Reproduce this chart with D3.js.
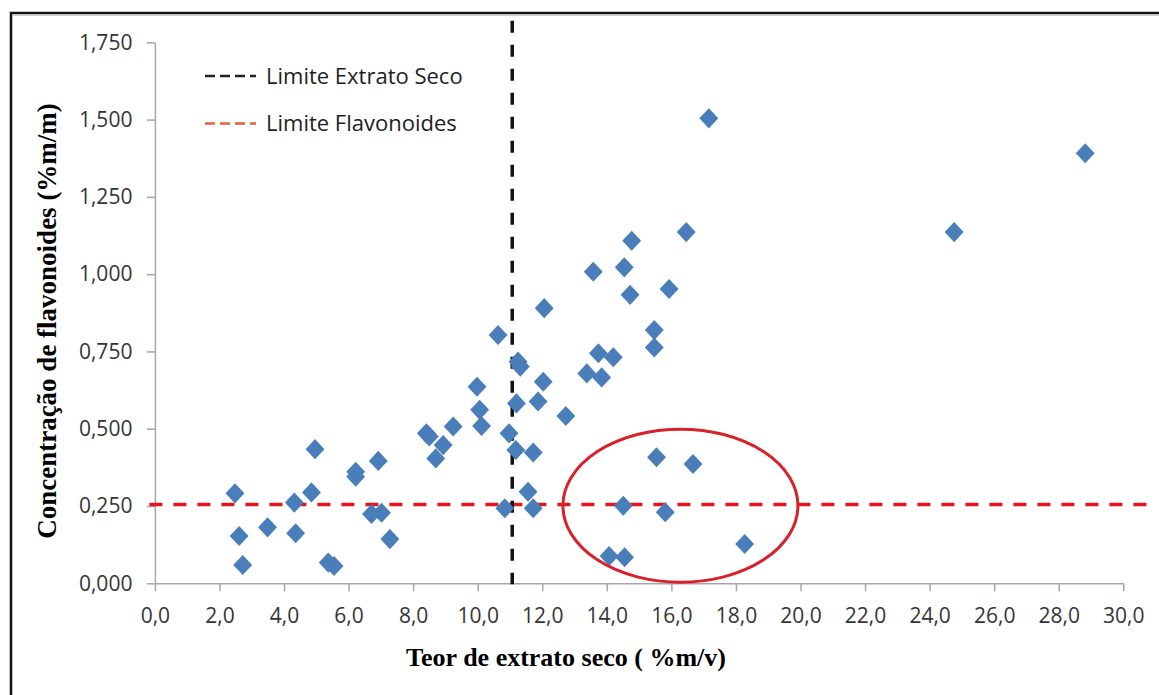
<!DOCTYPE html>
<html>
<head>
<meta charset="utf-8">
<script src="https://cdn.jsdelivr.net/npm/d3@7"></script>
<style>
  html, body { margin: 0; padding: 0; background: #fff; }
  svg { display: block; }
</style>
</head>
<body>
<svg id="chart" width="1159" height="695"></svg>
<script>
// Teor de extrato seco (%m/v) of each sample
const extratoSeco = [
  2.48, 2.61, 2.72, 3.49, 4.32, 4.36, 4.85, 4.96, 5.37, 5.55,
  6.22, 6.22, 6.71, 7.02, 6.92, 7.28, 8.41, 8.50, 8.70, 8.93,
  9.24, 9.98, 10.06, 10.12, 10.63, 10.84, 10.97, 11.18, 11.20, 11.25,
  11.32, 11.56, 11.72, 11.72, 11.87, 12.03, 12.06, 12.73, 13.38, 13.58,
  13.74, 13.84, 14.20, 14.54, 14.72, 14.77, 15.47, 15.47, 15.93, 16.46,
  17.16, 24.76, 28.82, 14.07, 14.55, 14.51, 15.81, 15.54, 16.67, 18.27
];
// Concentração de flavonoides (%m/m) of each sample
const flavonoides = [
  0.291, 0.153, 0.059, 0.181, 0.261, 0.162, 0.294, 0.434, 0.067, 0.056,
  0.361, 0.345, 0.224, 0.228, 0.396, 0.143, 0.485, 0.475, 0.404, 0.447,
  0.507, 0.636, 0.561, 0.509, 0.803, 0.243, 0.485, 0.431, 0.582, 0.717,
  0.701, 0.296, 0.243, 0.423, 0.588, 0.652, 0.890, 0.541, 0.679, 1.008,
  0.744, 0.666, 0.731, 1.022, 0.933, 1.108, 0.819, 0.763, 0.952, 1.136,
  1.504, 1.136, 1.391, 0.088, 0.084, 0.251, 0.230, 0.408, 0.386, 0.127
];

// Axis ticks
const xTicks = [0, 2, 4, 6, 8, 10, 12, 14, 16, 18, 20, 22, 24, 26, 28, 30];
const yTicks = [0, 0.25, 0.5, 0.75, 1.0, 1.25, 1.5, 1.75];

// Reference limits
const limiteExtratoSeco = 11.07;           // vertical limit, %m/v
const limiteExtratoSecoY = [-0.003, 1.82]; // its vertical extent
const limiteFlavonoides = 0.255;           // horizontal limit, %m/m
const limiteFlavonoidesX = [-0.17, 31.0];  // its horizontal extent

// Highlighted group of samples (ellipse): centre and radii in data units
const destaqueCentro = [16.28, 0.251];
const destaqueRaio = [3.64, 0.2475];

const legendItems = ["Limite Extrato Seco", "Limite Flavonoides"];

const svg = d3.select("#chart");
const W = 1159, H = 695;

const x = d3.scaleLinear().domain([0, 30]).range([154.9, 1123.3]);
const y = d3.scaleLinear().domain([0, 1.75]).range([583.3, 42.3]);

const ptBR = d3.formatLocale({ decimal: ",", thousands: ".", grouping: [3], currency: ["R$", ""] });
const fmtX = ptBR.format(".1f");
const fmtY = ptBR.format(".3f");

svg.append("rect").attr("width", W).attr("height", H).attr("fill", "#fff");

// outer frame
svg.append("rect")
  .attr("x", 11).attr("y", 13)
  .attr("width", W + 20).attr("height", H + 20)
  .attr("fill", "none")
  .attr("stroke", "#111").attr("stroke-width", 2.5);
svg.append("line")
  .attr("x1", 12.5).attr("x2", W).attr("y1", 15.2).attr("y2", 15.2)
  .attr("stroke", "#bbb").attr("stroke-width", 1);

const axisColor = "#a6a6a6";
const tickFont = "'Open Sans', 'Noto Sans', sans-serif";

// x axis
const gx = svg.append("g")
  .attr("transform", `translate(0,${y(0)})`)
  .call(d3.axisBottom(x).tickValues(xTicks).tickFormat(fmtX)
    .tickSize(8).tickSizeOuter(0).tickPadding(16.5));
// y axis
const gy = svg.append("g")
  .attr("transform", `translate(${x(0)},0)`)
  .call(d3.axisLeft(y).tickValues(yTicks).tickFormat(fmtY)
    .tickSize(8).tickSizeOuter(0).tickPadding(14.5));

[gx, gy].forEach(g => {
  g.select(".domain").attr("stroke", axisColor).attr("stroke-width", 1.5);
  g.selectAll(".tick line").attr("stroke", axisColor).attr("stroke-width", 1.5);
  g.selectAll(".tick text")
    .attr("fill", "#353535")
    .style("font-family", tickFont)
    .style("font-size", "21px");
});

// horizontal flavonoid limit
svg.append("line")
  .attr("x1", x(limiteFlavonoidesX[0])).attr("x2", x(limiteFlavonoidesX[1]))
  .attr("y1", y(limiteFlavonoides)).attr("y2", y(limiteFlavonoides))
  .attr("stroke", "#e3161f").attr("stroke-width", 3.5)
  .attr("stroke-dasharray", "13 11");

// vertical dry-extract limit
svg.append("line")
  .attr("x1", x(limiteExtratoSeco)).attr("x2", x(limiteExtratoSeco))
  .attr("y1", y(limiteExtratoSecoY[1])).attr("y2", y(limiteExtratoSecoY[0]))
  .attr("stroke", "#111").attr("stroke-width", 3.5)
  .attr("stroke-dasharray", "12 12");

// diamond markers
const diamond = {
  draw(ctx, size) {
    const r = Math.sqrt(size / 2);
    ctx.moveTo(0, -r * 1.03);
    ctx.lineTo(r * 0.97, 0);
    ctx.lineTo(0, r * 1.03);
    ctx.lineTo(-r * 0.97, 0);
    ctx.closePath();
  }
};
const pontos = extratoSeco.map((v, i) => ({ x: v, y: flavonoides[i] }));
svg.append("g").selectAll("path")
  .data(pontos)
  .join("path")
  .attr("d", d3.symbol().type(diamond).size(190))
  .attr("transform", d => `translate(${x(d.x)},${y(d.y)})`)
  .attr("fill", "#4a7ebb");

// ellipse around the highlighted samples
svg.append("ellipse")
  .attr("cx", x(destaqueCentro[0]))
  .attr("cy", y(destaqueCentro[1]))
  .attr("rx", x(destaqueRaio[0]) - x(0))
  .attr("ry", y(0) - y(destaqueRaio[1]))
  .attr("fill", "none")
  .attr("stroke", "#d8212a").attr("stroke-width", 3);

// legend
const legendColors = ["#222", "#e4603f"];
const leg = svg.append("g");
legendItems.forEach((label, i) => {
  const cy = 76 + i * 47.5;
  leg.append("line")
    .attr("x1", 205).attr("x2", 256)
    .attr("y1", cy).attr("y2", cy)
    .attr("stroke", legendColors[i]).attr("stroke-width", 2.4)
    .attr("stroke-dasharray", "10 5");
  leg.append("text")
    .attr("x", 266).attr("y", cy + 7.5)
    .attr("fill", "#1e1e1e")
    .style("font-family", tickFont)
    .style("font-size", "22px")
    .text(label);
});

// axis titles
svg.append("text")
  .attr("x", 566).attr("y", 666)
  .attr("text-anchor", "middle")
  .attr("fill", "#000")
  .style("font-family", "'Liberation Serif', 'Times New Roman', serif")
  .style("font-weight", "bold")
  .style("font-size", "26px")
  .text("Teor de extrato seco ( %m/v)");

svg.append("text")
  .attr("transform", "translate(56,321) rotate(-90)")
  .attr("text-anchor", "middle")
  .attr("fill", "#000")
  .style("font-family", "'Liberation Serif', 'Times New Roman', serif")
  .style("font-weight", "bold")
  .style("font-size", "27px")
  .text("Concentração de flavonoides (%m/m)");
</script>
</body>
</html>
